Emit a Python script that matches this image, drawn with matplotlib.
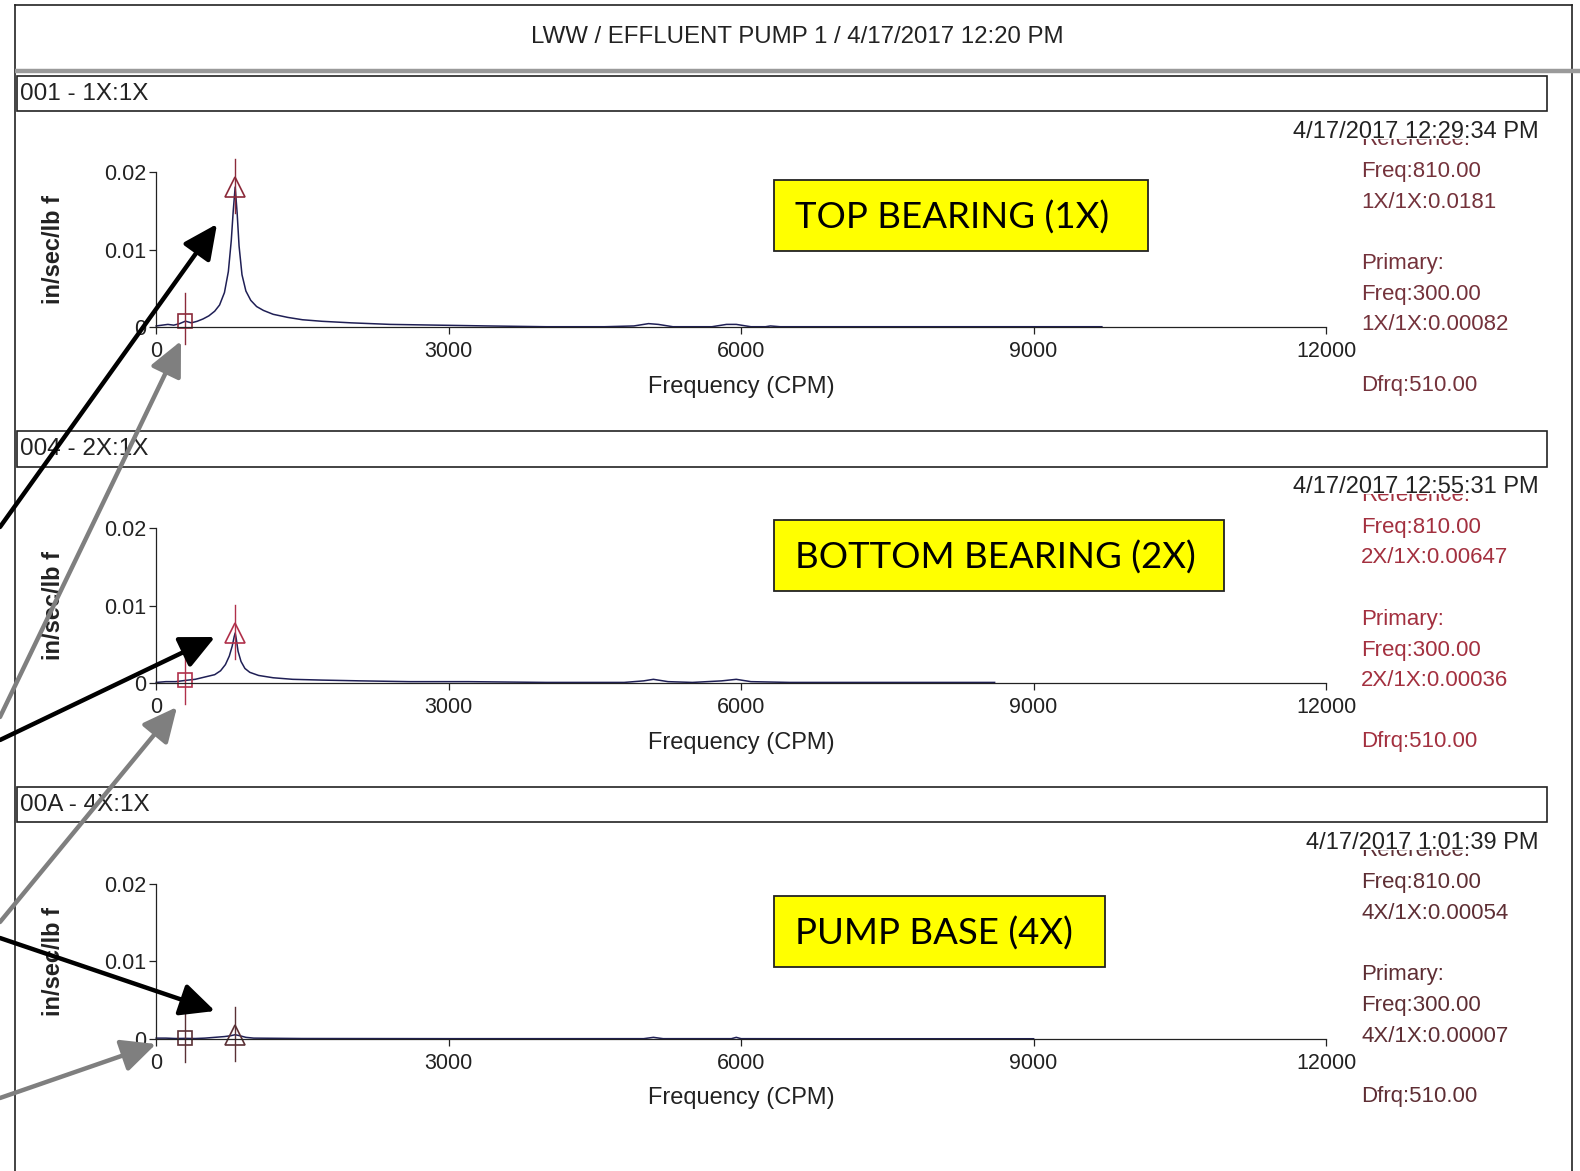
import matplotlib.pyplot as plt
from matplotlib.patches import Rectangle, FancyArrowPatch

# spectrum points (CPM, in/sec/lb f) for the three measurement points
freq_top = [0, 60, 120, 180, 240, 300, 360, 420, 480, 540, 600, 650, 700, 740, 770, 790,
            810, 830, 850, 880, 920, 970, 1030, 1100, 1200, 1350, 1500, 1700, 2000, 2400,
            2900, 3400, 4000, 4600, 4900, 5050, 5150, 5300, 5700, 5850, 5950, 6100, 6250,
            6300, 6400, 7000, 8000, 9000, 9700]
amp_top = [0.0002, 0.0003, 0.0004, 0.0003, 0.0005, 0.00082, 0.0006, 0.0008, 0.0011, 0.0015,
           0.0021, 0.0029, 0.0045, 0.0072, 0.0112, 0.0150, 0.0181, 0.0148, 0.0105, 0.0068,
           0.0047, 0.0035, 0.0027, 0.0022, 0.0017, 0.0013, 0.0010, 0.0008, 0.0006, 0.0004,
           0.0003, 0.0002, 0.0001, 0.0001, 0.0002, 0.0005, 0.0004, 0.0001, 0.0001, 0.0004,
           0.0004, 0.0001, 0.0001, 0.0002, 0.0001, 0.0001, 0.0001, 0.0001, 0.0001]

freq_mid = [0, 100, 200, 300, 400, 500, 600, 660, 710, 750, 780, 800, 810, 820, 840, 870,
            910, 960, 1050, 1200, 1400, 1700, 2100, 2600, 3200, 4000, 4800, 5000, 5100,
            5250, 5500, 5800, 5950, 6100, 6500, 7500, 8600]
amp_mid = [0.0001, 0.0002, 0.0002, 0.00036, 0.0005, 0.0008, 0.0011, 0.0016, 0.0024, 0.0035,
           0.0048, 0.0060, 0.00647, 0.0058, 0.0041, 0.0028, 0.0019, 0.0014, 0.0010, 0.0007,
           0.0005, 0.0004, 0.0003, 0.0002, 0.0002, 0.0001, 0.0001, 0.0003, 0.0005, 0.0002,
           0.0001, 0.0003, 0.0005, 0.0002, 0.0001, 0.0001, 0.0001]

freq_bot = [0, 100, 200, 300, 400, 500, 600, 700, 760, 810, 860, 920, 1000, 1500, 3000,
            5000, 5100, 5200, 5900, 5950, 6000, 7000, 9000]
amp_bot = [0.0001, 0.0001, 0.00005, 0.00007, 0.00005, 0.0001, 0.0002, 0.0003, 0.0004,
           0.00054, 0.0004, 0.0002, 0.0001, 0.00005, 0.00003, 0.00003, 0.0002, 0.00003,
           0.00003, 0.0002, 0.00003, 0.00002, 0.00002]

point_ids = ['001 - 1X:1X', '004 - 2X:1X', '00A - 4X:1X']
point_tags = ['1X', '2X', '4X']
stamps = ['4/17/2017 12:29:34 PM', '4/17/2017 12:55:31 PM', '4/17/2017 1:01:39 PM']
callouts = ['TOP BEARING (1X)', 'BOTTOM BEARING (2X)', 'PUMP BASE (4X)']

ref_freq = 810.0
prim_freq = 300.0
ref_amp = [0.0181, 0.00647, 0.00054]
prim_amp = [0.00082, 0.00036, 0.00007]

x_ticks = [0, 3000, 6000, 9000, 12000]
y_ticks = [0, 0.01, 0.02]
y_tick_labels = ['0', '0.01', '0.02']

spectra = [(freq_top, amp_top), (freq_mid, amp_mid), (freq_bot, amp_bot)]

W, H = 1580, 1171
sans = ['Liberation Sans', 'DejaVu Sans']
info_colors = ['#74323b', '#a3303f', '#5e2e34']
marker_colors = ['#8b2a3a', '#b0304a', '#5a3035']
line_color = '#1f1f55'


def fmt(v):
    return f"{v:.5f}".rstrip('0')


fig = plt.figure(figsize=(W / 100, H / 100), dpi=100)
fig.patch.set_facecolor('white')

step = 355.7
for i, (fr, am) in enumerate(spectra):
    y0 = 327.5 + i * step
    y1 = 172.3 + i * step
    x0, x1 = 156.2, 1326.1
    ax = fig.add_axes([x0 / W, 1 - y0 / H, (x1 - x0) / W, (y0 - y1) / H])
    ax.patch.set_alpha(0)
    ax.set_xlim(0, 12000)
    ax.set_ylim(0, 0.02)
    for s in ['top', 'right']:
        ax.spines[s].set_visible(False)
    for s in ['left', 'bottom']:
        ax.spines[s].set_color('#222222')
        ax.spines[s].set_linewidth(0.9)
    ax.set_xticks(x_ticks)
    ax.set_xticklabels([str(t) for t in x_ticks], family=sans)
    ax.set_yticks(y_ticks)
    ax.set_yticklabels(y_tick_labels, family=sans)
    ax.tick_params(direction='out', length=5, width=0.9, labelsize=15.5, colors='#222222')
    ax.tick_params(axis='x', pad=5)
    ax.tick_params(axis='y', pad=2)

    ax.plot(fr, am, color=line_color, lw=1.1, clip_on=False)

    # reference (810) and primary (300) cursors
    mc = marker_colors[i]
    ax.plot([ref_freq, ref_freq], [ref_amp[i] - 0.0034, ref_amp[i] + 0.0036],
            color=mc, lw=1.0, clip_on=False)
    ax.plot([ref_freq], [ref_amp[i]], marker='^', ms=15, mfc='none', mec=mc, mew=1.2,
            clip_on=False)
    ax.plot([prim_freq, prim_freq], [prim_amp[i] - 0.003, prim_amp[i] + 0.0036],
            color=mc, lw=1.0, clip_on=False)
    ax.plot([prim_freq], [prim_amp[i]], marker='s', ms=10, mfc='none', mec=mc, mew=1.2,
            clip_on=False)

# page overlay in pixel units
ov = fig.add_axes([0, 0, 1, 1], zorder=5)
ov.set_xlim(0, W)
ov.set_ylim(H, 0)
ov.axis('off')
ov.patch.set_alpha(0)

ov.plot([15, 15], [5, H], color='#222222', lw=1.2)
ov.plot([15, 1572], [5, 5], color='#222222', lw=1.2)
ov.plot([1572, 1572], [5, H], color='#222222', lw=1.2)
ov.plot([15, W], [71, 71], color='#9a9a9a', lw=3.2, solid_capstyle='butt')
ov.text(797, 37, 'LWW / EFFLUENT PUMP 1 / 4/17/2017 12:20 PM', ha='center', va='center',
        fontsize=17.3, family=sans, color='#222222')

box_top = [180, 520, 896]
box_w = [374, 450, 331]
for i in range(3):
    off = i * step
    ov.add_patch(Rectangle((17, 75.5 + off), 1530, 35.5, fc='white', ec='#222222', lw=1.2))
    ov.text(20, 93.5 + off, point_ids[i], ha='left', va='center', fontsize=17.5,
            family=sans, color='#222222')

    # timestamp sits on top of the "Reference:" heading
    c = info_colors[i]
    ov.text(1361, 145 + off, 'Reference:', ha='left', va='baseline', fontsize=16,
            family=sans, color=c, zorder=1)
    ov.add_patch(Rectangle((1300, 112 + off), 240, 26.5, fc='white', ec='none', zorder=2))
    ov.text(1539, 137.5 + off, stamps[i], ha='right', va='baseline', fontsize=17,
            family=sans, color='#222222', zorder=3)

    tag = point_tags[i]
    info = [(171.5, f"Freq:{ref_freq:.2f}"),
            (202.0, f"{tag}/1X:{fmt(ref_amp[i])}"),
            (263.5, 'Primary:'),
            (294.5, f"Freq:{prim_freq:.2f}"),
            (325.0, f"{tag}/1X:{fmt(prim_amp[i])}"),
            (385.5, f"Dfrq:{ref_freq - prim_freq:.2f}")]
    for y, s in info:
        ov.text(1361, y + off, s, ha='left', va='center', fontsize=16, family=sans,
                color=c)

    ov.text(53, 250 + off, 'in/sec/lb f', rotation=90, ha='center', va='center',
            fontsize=17, fontweight='bold', family=sans, color='#222222')
    ov.text(741, 387 + off, 'Frequency (CPM)', ha='center', va='center', fontsize=17,
            family=sans, color='#222222')

    ov.add_patch(Rectangle((774, box_top[i]), box_w[i], 71, fc='#ffff00', ec='#222222',
                           lw=1.3, zorder=6))
    ov.text(795, box_top[i] + 38, callouts[i], ha='left', va='center', fontsize=26.4,
            family=['Lato', 'DejaVu Sans'], color='black', zorder=7)

# pointer arrows
black_arrows = [((0, 527), (217, 224)), ((0, 740), (215, 637)), ((0, 938), (215, 1011))]
gray_arrows = [((0, 717), (181, 341)), ((0, 922), (177, 707)), ((0, 1098), (156, 1044))]
for arrows, col in [(gray_arrows, '#7f7f7f'), (black_arrows, 'black')]:
    for a, b in arrows:
        ov.add_patch(FancyArrowPatch(a, b, arrowstyle='-|>,head_length=1.05,head_width=0.5',
                                     mutation_scale=20, lw=3.2, color=col,
                                     shrinkA=0, shrinkB=0, zorder=8))

fig.savefig('out.png', dpi=100)
